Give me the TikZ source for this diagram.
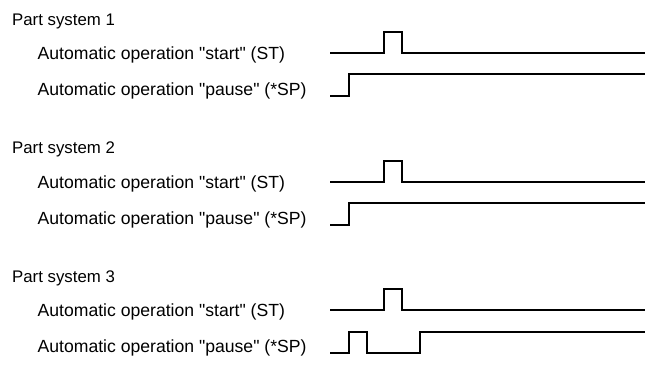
\documentclass[tikz,border=0pt]{standalone}
\usepackage{fontspec}
\setmainfont{Liberation Sans}[Ligatures=TeXOff]
\begin{document}
\begin{tikzpicture}[x=1pt,y=-1pt,
  head/.style={anchor=base west,inner sep=0pt,font=\fontsize{16.8}{20}\selectfont},
  sig/.style={anchor=base west,inner sep=0pt,font=\fontsize{17.6}{21}\selectfont},
  wave/.style={line width=2pt,line join=miter,line cap=butt}]
\useasboundingbox (0,0) rectangle (645,365);
% Part system 1
\node[head] (p1) at (12,25) {Part system 1};
\node[sig] (s1) at (37.5,59.5) {Automatic operation "start" (ST)};
\node[sig] (q1) at (37.5,95.5) {Automatic operation "pause" (*SP)};
\draw[wave] (330,53.3) -- (384.3,53.3) -- (384.3,31.7) -- (402.3,31.7) -- (402.3,53.3) -- (645,53.3);
\draw[wave] (330,96) -- (348.7,96) -- (348.7,74.3) -- (645,74.3);
% Part system 2
\begin{scope}[shift={(0,128.8)}]
\node[head] (p2) at (12,25) {Part system 2};
\node[sig] (s2) at (37.5,59.5) {Automatic operation "start" (ST)};
\node[sig] (q2) at (37.5,95.5) {Automatic operation "pause" (*SP)};
\draw[wave] (330,53.3) -- (384.3,53.3) -- (384.3,31.7) -- (402.3,31.7) -- (402.3,53.3) -- (645,53.3);
\draw[wave] (330,96) -- (348.7,96) -- (348.7,74.3) -- (645,74.3);
\end{scope}
% Part system 3
\begin{scope}[shift={(0,257)}]
\node[head] (p3) at (12,25) {Part system 3};
\node[sig] (s3) at (37.5,59.5) {Automatic operation "start" (ST)};
\node[sig] (q3) at (37.5,95.5) {Automatic operation "pause" (*SP)};
\draw[wave] (330,53.3) -- (384.3,53.3) -- (384.3,31.7) -- (402.3,31.7) -- (402.3,53.3) -- (645,53.3);
\draw[wave] (330,95.7) -- (348.7,95.7) -- (348.7,74.7) -- (366.7,74.7) -- (366.7,95.7) -- (420,95.7) -- (420,74.7) -- (645,74.7);
\end{scope}
\end{tikzpicture}
\end{document}
